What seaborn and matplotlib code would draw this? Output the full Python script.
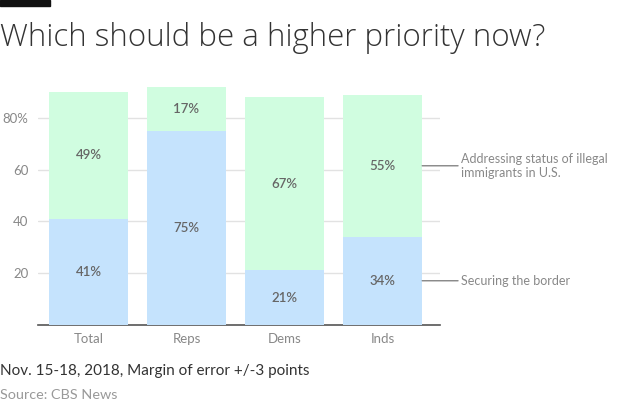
import matplotlib
matplotlib.use("Agg")
import matplotlib.pyplot as plt
import seaborn as sns
import pandas as pd

categories = ["Total", "Reps", "Dems", "Inds"]
border = [41, 75, 21, 34]
status = [49, 17, 67, 55]
yticks = [20, 40, 60, 80]
ytick_labels = ["20", "40", "60", "80%"]
series_names = ["Securing the border", "Addressing status of illegal\nimmigrants in U.S."]

BLUE = "#c5e3fd"
GREEN = "#d0fde0"
TXT = "#666666"

sns.set_theme(style="white")
plt.rcParams["font.family"] = ["Lato", "DejaVu Sans"]

df = pd.DataFrame({"cat": categories, "border": border, "status": status})
df["total"] = df["border"] + df["status"]

fig = plt.figure(figsize=(6.2, 4.13), dpi=100)
ax = fig.add_axes([38 / 620, (413 - 324.7) / 413, (440 - 38) / 620, (324.7 - 80) / 413])

for y in yticks:
    ax.axhline(y, color="#e2e2e2", lw=1, zorder=0)

sns.barplot(data=df, x="cat", y="total", color=GREEN, width=0.81, ax=ax,
            saturation=1, zorder=2, linewidth=0)
sns.barplot(data=df, x="cat", y="border", color=BLUE, width=0.81, ax=ax,
            saturation=1, zorder=3, linewidth=0)

ax.set_ylim(0, 94.7)
ax.set_xlim(-0.515, 3.587)

for i, (b, s) in enumerate(zip(border, status)):
    ax.text(i, b / 2, f"{b}%", ha="center", va="center", color=TXT,
            fontsize=9.5, fontweight="semibold", zorder=5)
    ax.text(i, b + s / 2, f"{s}%", ha="center", va="center", color=TXT,
            fontsize=9.5, fontweight="semibold", zorder=5)

ax.set_yticks(yticks)
ax.set_yticklabels(ytick_labels)
ax.tick_params(axis="y", length=0, pad=7, labelsize=9.5, labelcolor="#888888")
ax.tick_params(axis="x", length=0, pad=6, labelsize=9.5, labelcolor="#888888")
ax.set_xlabel("")
ax.set_ylabel("")
for sp in ["top", "right", "left"]:
    ax.spines[sp].set_visible(False)
ax.spines["bottom"].set_color("#555555")
ax.spines["bottom"].set_linewidth(1.2)

# series annotations for last bar
last = len(categories) - 1
x_end = last + 0.405
ax.annotate(series_names[1], xy=(x_end, border[last] + status[last] / 2),
            xytext=(x_end + 0.40, border[last] + status[last] / 2),
            textcoords="data", ha="left", va="center", fontsize=9,
            color="#888888", annotation_clip=False,
            arrowprops=dict(arrowstyle="-", color="#777777", lw=0.9,
                            shrinkA=0, shrinkB=0))
ax.annotate(series_names[0], xy=(x_end, border[last] / 2),
            xytext=(x_end + 0.40, border[last] / 2),
            textcoords="data", ha="left", va="center", fontsize=9,
            color="#888888", annotation_clip=False,
            arrowprops=dict(arrowstyle="-", color="#777777", lw=0.9,
                            shrinkA=0, shrinkB=0))

# top black bar
fig.patches.append(plt.Rectangle((0, 1 - 6 / 413), 50 / 620, 6 / 413,
                                 transform=fig.transFigure, color="#111111"))
fig.text(0, 1 - 38 / 413, "Which should be a higher priority now?",
         ha="left", va="center", fontsize=22.5, color="#333333",
         fontweight="light", family=["Open Sans", "DejaVu Sans"])
fig.text(0, 1 - 371 / 413, "Nov. 15-18, 2018, Margin of error +/-3 points",
         ha="left", va="center", fontsize=11, color="#333333")
fig.text(0, 1 - 395 / 413, "Source: CBS News",
         ha="left", va="center", fontsize=10.4, color="#999999")

fig.savefig("out.png", dpi=100)
